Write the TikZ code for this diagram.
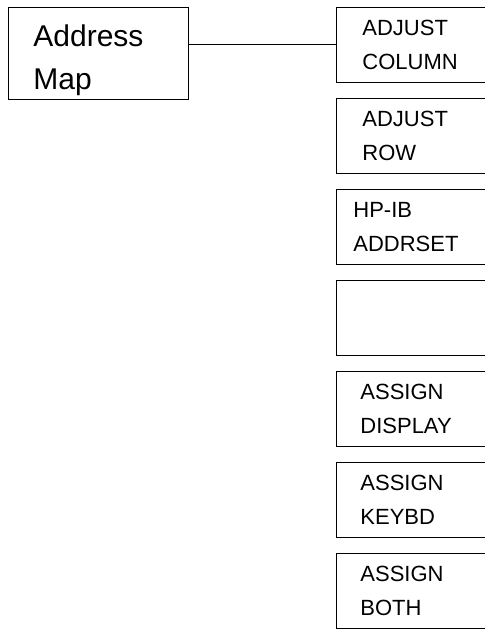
\documentclass[tikz,border=0pt]{standalone}
\usepackage{fontspec}
\setmainfont{Liberation Sans}
\usetikzlibrary{calc}

\begin{document}
\begin{tikzpicture}[x=0.75pt,y=-0.75pt]
	\tikzset{
		menubox/.style={draw, line width=0.6pt, rectangle, anchor=north west, align=left},
		leftkey/.style={menubox, text width=97.5pt, inner xsep=18.75pt, inner ysep=0pt, minimum height=69pt, font=\fontsize{22.5}{32.25}\selectfont},
		softkey/.style={menubox, text width=97.5pt, minimum height=56.25pt, font=\fontsize{16.5}{25.5}\selectfont}
	}
	\useasboundingbox (0,0) rectangle (485,635);
	\clip (0,0) rectangle (485,635);
	% left key
	\node[leftkey] (map) at (8,7) {\rule{0pt}{26pt}Address\\Map};
	% softkey column
	\foreach \n/\y/\dx/\txt in {1/7/26/{ADJUST\\COLUMN}, 2/98/26/{ADJUST\\ROW},
		3/189/17/{HP-IB\\ADDRSET}, 4/280/24/{}, 5/371/24/{ASSIGN\\DISPLAY},
		6/462/24/{ASSIGN\\KEYBD}, 7/553/24/{ASSIGN\\BOTH}} {
		\node[softkey, inner xsep=\dx*0.75pt] (key\n) at (336,\y) {\txt};
	}
	\draw[line width=0.6pt] (key1.west) -- (key1.west -| map.east);
\end{tikzpicture}
\end{document}
